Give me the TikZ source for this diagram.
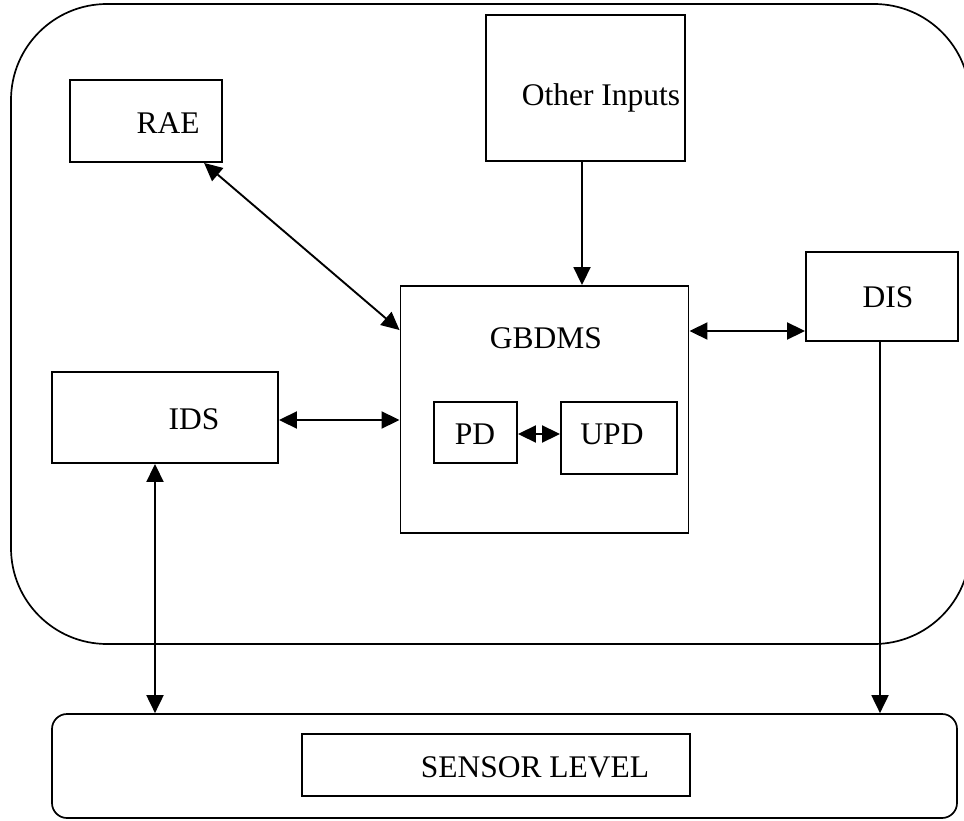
\documentclass[tikz,border=0pt]{standalone}
\usepackage{fontspec}
\setmainfont{Liberation Serif}
\usetikzlibrary{arrows.meta,calc}
\tikzset{
  box/.style={draw, line width=1.9pt, rectangle, inner sep=0pt},
  lbl/.style={font=\fontsize{31.5}{34}\selectfont, inner sep=0pt},
  dbl/.style={line width=1.9pt, {Triangle[length=18pt,width=17pt]}-{Triangle[length=18pt,width=17pt]}},
  one/.style={line width=1.9pt, -{Triangle[length=18pt,width=17pt]}},
}
\begin{document}
\begin{tikzpicture}[x=1pt,y=-1pt]
\useasboundingbox (0,0) rectangle (964,821);
\begin{scope}
\clip (0,0) rectangle (964,821);
\draw[line width=1.7pt, rounded corners=96pt] (11,4) rectangle (970,644);
\end{scope}
% sensor level frame
\node[box, line width=1.7pt, rounded corners=15pt, minimum width=905pt, minimum height=104pt] (sensor) at (504.5,766) {};
\node[box, minimum width=388pt, minimum height=62pt] (sensorin) at (496,765) {};
\node[lbl] (sensort) at (535,767) {SENSOR LEVEL};
% boxes
\node[box, minimum width=152pt, minimum height=82pt] (rae) at (146,121) {};
\node[lbl] (raet) at (168,123) {RAE};
\node[box, minimum width=199pt, minimum height=146pt] (other) at (585.5,88) {};
\node[lbl] (othert) at (601,98) {Other Inputs};
\node[box, minimum width=288pt, minimum height=247pt] (gbdms) at (544.5,409.5) {};
\node[lbl] (gbdmst) at (546,338) {GBDMS};
\node[box, minimum width=152pt, minimum height=89pt] (dis) at (882,296.5) {};
\node[lbl] (dist) at (888,297) {DIS};
\node[box, minimum width=226pt, minimum height=91pt] (ids) at (165,417.5) {};
\node[lbl] (idst) at (194,419) {IDS};
\node[box, minimum width=83pt, minimum height=61pt] (pd) at (475.5,432.5) {};
\node[lbl] (pdt) at (475,434) {PD};
\node[box, minimum width=116pt, minimum height=72pt] (upd) at (619,438) {};
\node[lbl] (updt) at (612,434) {UPD};
% connectors
\draw[dbl] ($(rae.south west)+(135,0)$) -- ($(gbdms.north west)+(0,45)$);
\draw[one] (other.south -| 582,0) -- (gbdms.north -| 582,0);
\draw[dbl] (gbdms.east |- 0,331) -- (dis.west |- 0,331);
\draw[dbl] (ids.east |- 0,420) -- (gbdms.west |- 0,420);
\draw[dbl] (pd.east |- 0,434) -- (upd.west |- 0,434);
\draw[dbl] (ids.south -| 155,0) -- (sensor.north -| 155,0);
\draw[one] (dis.south -| 880,0) -- (sensor.north -| 880,0);
\end{tikzpicture}
\end{document}
